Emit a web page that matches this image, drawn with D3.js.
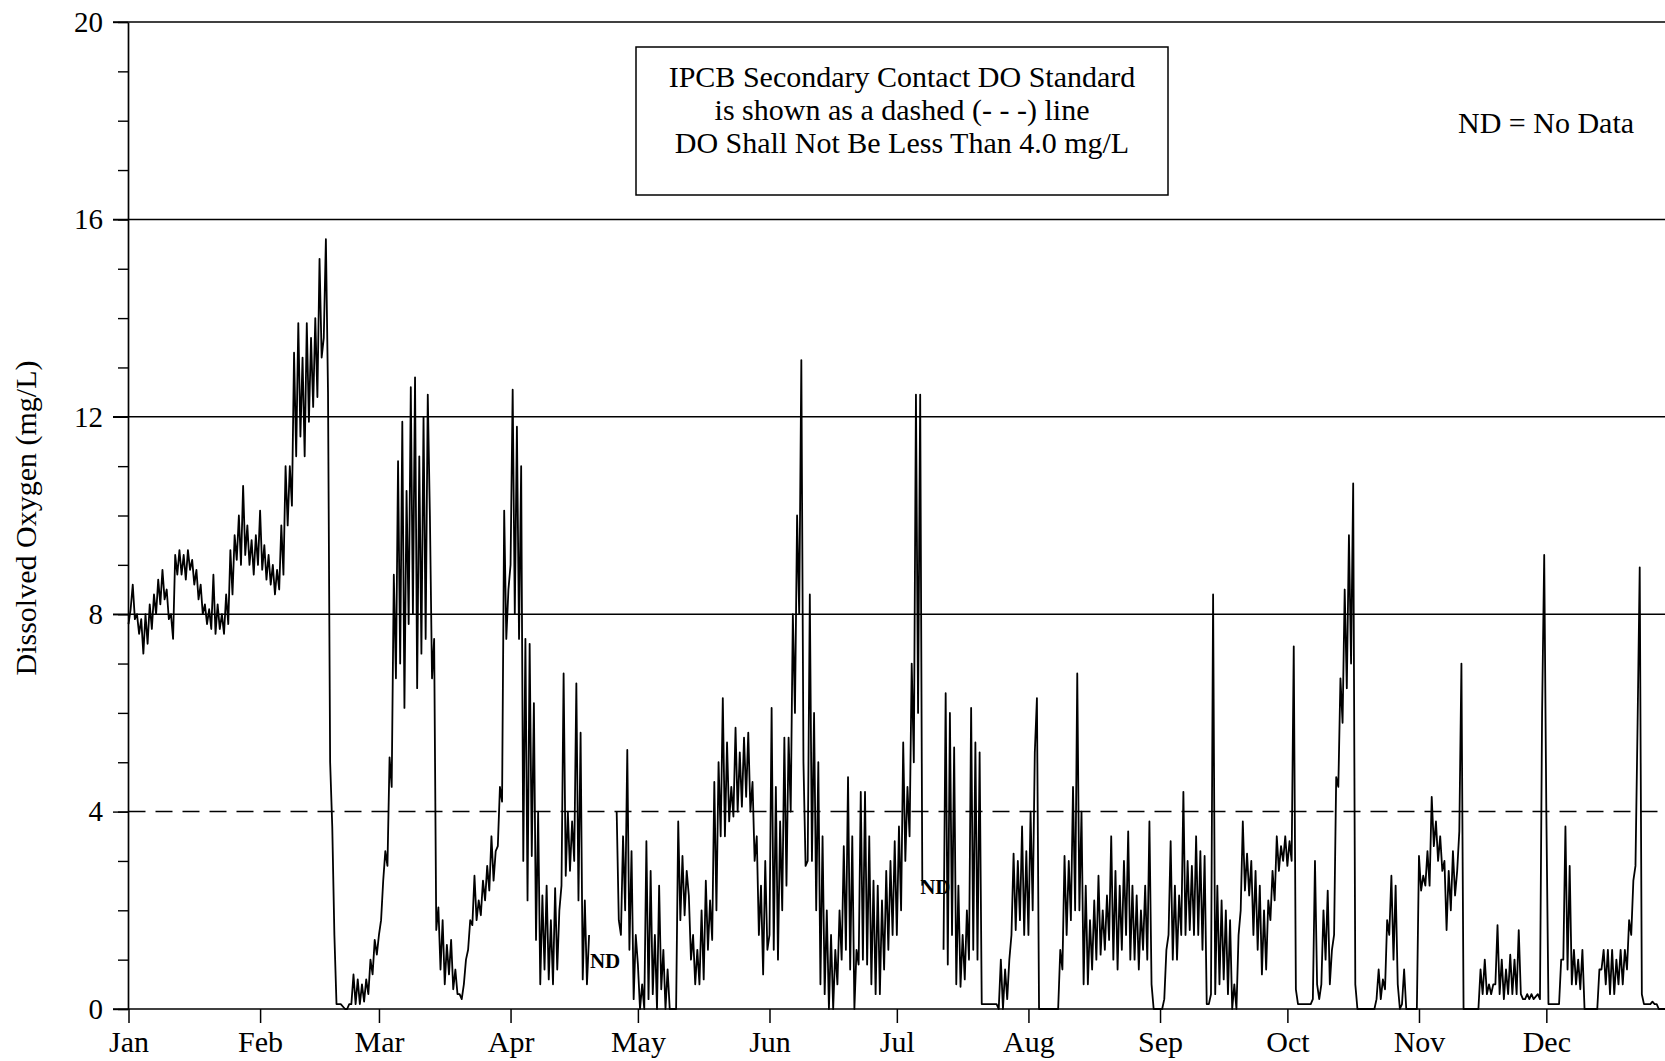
<!DOCTYPE html>
<html>
<head>
<meta charset="utf-8">
<script src="https://cdn.jsdelivr.net/npm/d3@7"></script>
<style>
  body { margin: 0; background: #fff; }
  svg { display: block; font-family: "Liberation Serif", "Times New Roman", serif; }
</style>
</head>
<body>
<svg id="chart" width="1665" height="1061"></svg>
<script>

/// data ///
const monthLabels = ["Jan", "Feb", "Mar", "Apr", "May", "Jun", "Jul", "Aug", "Sep", "Oct", "Nov", "Dec"];
const monthStartDays = [0, 31, 59, 90, 120, 151, 181, 212, 243, 273, 304, 334];
const yTickValues = [0, 4, 8, 12, 16, 20];
const gridValues = [8, 12, 16, 20];
const doStandard = 4.0;

// DO readings (mg/L), two per day (midnight, noon); null = no data
const janDO = [
  7.8,8.1, 8.6,7.9, 8.0,7.6, 7.9,7.2, 8.0,7.4, 8.2,7.7, 8.4,8.0, 8.7,8.2, 8.9,8.3, 8.5,7.9,
  8.0,7.5, 9.2,8.8, 9.3,8.8, 9.2,8.7, 9.3,8.9, 9.1,8.6, 8.9,8.3, 8.6,8.0, 8.2,7.8, 8.1,7.7,
  8.8,7.6, 8.2,7.7, 8.0,7.6, 8.4,7.8, 9.3,8.4, 9.6,9.1, 10.0,9.0, 10.6,9.2, 9.8,9.0, 9.5,8.8,
  9.6,9.0
];
const febDO = [
  10.1,8.9, 9.4,8.7, 9.2,8.6, 9.0,8.4, 8.9,8.5, 9.8,8.8, 11.0,9.8, 11.0,10.2, 13.3,11.2, 13.9,11.6,
  13.2,11.2, 13.9,11.9, 13.6,12.2, 14.0,12.4, 15.2,13.2, 13.6,15.6, 12.5,5.0, 3.7,1.5, 0.1,0.1, 0.1,0.05,
  0,0, 0.1,0.1, 0.7,0.1, 0.6,0.1, 0.5,0.15, 0.6,0.3, 1.0,0.7, 1.4,1.1
];
const marDO = [
  1.5,1.8, 2.6,3.2, 2.9,5.1, 4.5,8.8, 6.7,11.1, 7.0,11.9, 6.1,10.5, 7.8,12.6, 8.0,12.8, 6.5,11.2,
  7.2,12.0, 7.5,12.45, 10.0,6.7, 7.5,1.6, 2.06,0.8, 1.8,0.5, 1.3,0.7, 1.4,0.4, 0.8,0.3, 0.3,0.2,
  0.5,1.0, 1.2,1.8, 1.7,2.7, 1.8,2.2, 1.9,2.6, 2.2,2.9, 2.4,3.5, 2.6,3.2, 3.3,4.5, 4.2,10.1,
  7.5,8.5
];
const aprDO = [
  9.0,12.55, 8.0,11.8, 7.5,11.0, 3.0,7.5, 2.2,7.4, 3.1,6.2, 1.4,4.0, 0.5,2.3, 0.8,2.5, 0.6,1.8,
  0.5,2.45, 0.8,2.0, 2.5,6.8, 2.7,4.0, 2.8,3.8, 3.0,6.6, 2.2,5.6, 0.6,2.2, 0.5,1.5, null,null,
  null,null, null,null, null,null, null,null, null,null, 4.0,1.8, 1.5,3.5, 2.0,5.25, 1.2,3.2, 0.2,1.5
];
const mayDO = [
  0.9,0.0, 0.5,0.0, 3.4,0.2, 2.8,0.3, 1.5,0.0, 2.5,0.4, 1.2,0.0, 0.8,0.0, 0.0,0.0, 0.0,3.8,
  1.8,3.1, 1.9,2.8, 2.3,1.0, 1.5,0.5, 1.2,0.5, 2.0,0.6, 2.6,1.2, 2.2,1.4, 4.6,2.0, 5.0,3.5,
  6.3,3.5, 5.4,3.8, 4.5,3.9, 5.7,4.0, 5.2,4.1, 5.5,4.3, 5.6,4.0, 4.6,3.0, 3.5,1.5, 2.5,0.7,
  3.0,1.2
];
const junDO = [
  1.5,6.1, 1.2,4.5, 1.0,3.8, 2.0,5.5, 2.5,5.5, 4.0,8.0, 6.0,10.0, 8.0,13.15, 5.0,2.9, 3.0,8.4,
  3.0,6.0, 2.0,5.0, 0.5,3.5, 0.3,2.0, 0.0,1.5, 0.0,1.2, 0.5,2.0, 1.0,3.3, 1.2,4.7, 0.8,3.5,
  0.0,1.2, 0.9,4.4, 1.0,4.4, 0.9,3.5, 0.5,2.6, 0.3,2.5, 0.3,2.2, 0.8,2.8, 1.2,3.0, 1.5,3.4
];
const julDO = [
  1.5,3.7, 2.0,5.4, 3.0,4.5, 3.5,7.0, 5.0,12.45, 6.0,12.45, 2.5,null, null,null, null,null, null,null,
  null,null, 1.2,6.4, 0.9,6.0, 1.5,5.3, 0.5,2.5, 0.45,1.5, 0.6,2.0, 1.0,6.1, 1.2,5.4, 1.0,5.2,
  0.1,0.1, 0.1,0.1, 0.1,0.1, 0.1,0.1, 0.0,1.0, 0.0,0.8, 0.2,1.0, 1.5,3.15, 1.6,3.0, 1.8,3.7,
  1.5,3.2
];
const augDO = [
  1.5,4.0, 2.0,5.2, 6.3,0.0, 0,0, 0,0, 0,0, 0,0, 0.0,1.2, 0.8,3.1, 1.5,3.0,
  1.8,4.5, 2.0,6.8, 2.0,4.0, 0.5,2.5, 0.5,1.8, 0.8,2.2, 1.0,2.7, 1.1,2.0, 1.2,2.3, 1.4,3.5,
  1.0,2.8, 0.8,2.5, 1.2,3.0, 1.5,3.6, 1.0,2.5, 1.0,2.3, 0.8,2.0, 1.2,2.5, 1.0,3.8, 0.5,0.0,
  0,0
];
const sepDO = [
  0,0, 0.2,1.2, 1.5,3.4, 1.0,2.5, 1.0,2.3, 1.5,4.4, 1.5,3.0, 1.6,2.9, 1.5,3.5, 1.5,3.2,
  1.2,3.1, 0.1,0.1, 0.3,8.4, 0.3,2.5, 0.5,2.2, 0.6,2.0, 0.3,1.8, 0.0,0.5, 0.0,1.5, 2.0,3.8,
  2.4,3.15, 2.3,3.0, 1.5,2.8, 1.2,2.5, 0.7,2.0, 0.8,2.2, 1.8,2.8, 2.2,3.5, 2.8,3.3, 3.0,3.5
];
const octDO = [
  2.9,3.4, 3.0,7.35, 0.4,0.1, 0.1,0.1, 0.1,0.1, 0.1,0.1, 0.2,3.0, 0.5,0.2, 0.5,2.0, 1.0,2.4,
  0.5,1.2, 1.5,4.7, 4.5,6.7, 5.8,8.5, 6.5,9.6, 7.0,10.65, 0.5,0.0, 0,0, 0,0, 0,0,
  0,0, 0.2,0.8, 0.2,0.6, 0.4,1.8, 1.5,2.7, 1.0,2.5, 0.5,0.0, 0.1,0.8, 0,0, 0,0,
  0,0
];
const novDO = [
  3.1,2.4, 2.7,2.5, 3.2,2.5, 4.3,3.3, 3.8,3.0, 3.5,2.8, 3.0,1.6, 2.8,2.0, 3.2,2.3, 2.8,3.6,
  7.0,0.0, 0,0, 0,0, 0,0, 0.0,0.8, 0.3,1.0, 0.3,0.5, 0.3,0.5, 0.5,1.7, 0.3,1.0,
  0.2,0.8, 0.3,1.1, 0.3,1.0, 0.3,1.6, 0.3,0.2, 0.2,0.3, 0.2,0.3, 0.2,0.25, 0.3,0.2, 6.0,9.2
];
const decDO = [
  4.0,0.1, 0.1,0.1, 0.1,0.1, 0.1,1.0, 1.0,3.7, 0.8,2.9, 0.5,1.2, 0.5,1.0, 0.4,1.2, 0,0,
  0,0, 0,0, 0.0,0.8, 0.8,1.2, 0.5,1.2, 0.3,1.2, 0.3,1.0, 0.5,1.2, 0.5,1.2, 0.8,1.8,
  1.5,2.6, 2.9,5.8, 8.95,0.3, 0.1,0.1, 0.1,0.1, 0.15,0.1, 0.1,0.0, 0,0, 0,0
];

// "ND" marks placed where the record has gaps
const ndMarks = [ { day: 108.7, value: 0.83 }, { day: 186.5, value: 2.33 } ];

const boxLines = [
  "IPCB Secondary Contact DO Standard",
  "is shown as a dashed (- - -) line",
  "DO Shall Not Be Less Than 4.0 mg/L"
];

/// constants ///
const width = 1665;
const height = 1061;
const plotLeft = 128.5;
const pxPerDay = 4.245;
const plotTop = 22;
const plotBottom = 1009;
const fontTick = 29;
const fontText = 30;
const serif = "Liberation Serif, Times New Roman, serif";

const readings = [].concat(janDO, febDO, marDO, aprDO, mayDO, junDO,
                           julDO, augDO, sepDO, octDO, novDO, decDO)
  .map((v, i) => ({ t: i / 2, v: v }));

/// scales ///
const x = d3.scaleLinear().domain([0, 365]).range([plotLeft, plotLeft + 365 * pxPerDay]);
const y = d3.scaleLinear().domain([0, 20]).range([plotBottom, plotTop]);

const svg = d3.select("#chart").attr("width", width).attr("height", height);

// gridlines
svg.append("g")
  .selectAll("line").data(gridValues).join("line")
    .attr("x1", 113).attr("x2", width)
    .attr("y1", d => y(d)).attr("y2", d => y(d))
    .attr("stroke", "#000").attr("stroke-width", 1.5);

// standard, dashed
svg.append("line")
  .attr("x1", x(0)).attr("x2", width)
  .attr("y1", y(doStandard)).attr("y2", y(doStandard))
  .attr("stroke", "#000").attr("stroke-width", 1.5)
  .attr("stroke-dasharray", "17,10");

// zero line
svg.append("line")
  .attr("x1", 113).attr("x2", width)
  .attr("y1", y(0)).attr("y2", y(0))
  .attr("stroke", "#000").attr("stroke-width", 1.7);

// y axis: minor ticks every 1 mg/L, major with labels
const yMinor = svg.append("g")
  .attr("transform", `translate(${plotLeft - 0.5},0)`)
  .call(d3.axisLeft(y).tickValues(d3.range(0, 21)).tickSize(10).tickSizeOuter(0).tickFormat(""));

const yMajor = svg.append("g")
  .attr("transform", `translate(${plotLeft - 0.5},0)`)
  .call(d3.axisLeft(y).tickValues(yTickValues).tickSize(15).tickSizeOuter(0).tickPadding(10));

svg.selectAll(".tick line").attr("stroke", "#000").attr("stroke-width", 1.4);
yMinor.select(".domain").attr("stroke-width", 1.7);
yMajor.select(".domain").remove();
yMajor.selectAll("text")
  .attr("font-size", fontTick)
  .attr("font-family", serif)
  .attr("fill", "#000");

// x axis: month starts
const xAxis = svg.append("g")
  .attr("transform", `translate(0,${plotBottom})`)
  .call(d3.axisBottom(x).tickValues(monthStartDays).tickSize(14).tickPadding(8)
          .tickFormat((d, i) => monthLabels[i]));
xAxis.select(".domain").remove();
xAxis.selectAll(".tick line").attr("stroke", "#000").attr("stroke-width", 1.5);
xAxis.selectAll("text")
  .attr("font-size", fontText)
  .attr("font-family", serif)
  .attr("fill", "#000");

// y title
svg.append("text")
  .attr("transform", "translate(36,518) rotate(-90)")
  .attr("text-anchor", "middle")
  .attr("font-family", serif)
  .attr("font-size", fontText)
  .text("Dissolved Oxygen (mg/L)");

// DO record
const line = d3.line()
  .defined(d => d.v != null)
  .x(d => x(d.t))
  .y(d => y(d.v));

svg.append("path")
  .datum(readings)
  .attr("d", line)
  .attr("fill", "none")
  .attr("stroke", "#000")
  .attr("stroke-width", 1.8)
  .attr("stroke-linejoin", "round");

// ND marks
svg.append("g")
  .selectAll("text").data(ndMarks).join("text")
    .attr("x", d => x(d.day))
    .attr("y", d => y(d.value))
    .attr("font-family", serif)
    .attr("font-size", 21)
    .attr("font-weight", "bold")
    .text("ND");

// legend box
const box = svg.append("g");
box.append("rect")
  .attr("x", 636).attr("y", 47).attr("width", 532).attr("height", 148)
  .attr("fill", "#fff").attr("stroke", "#000").attr("stroke-width", 1.5);
box.selectAll("text").data(boxLines).join("text")
  .attr("x", 902)
  .attr("y", (d, i) => 87 + i * 33)
  .attr("text-anchor", "middle")
  .attr("font-family", serif)
  .attr("font-size", fontText)
  .text(d => d);

svg.append("text")
  .attr("x", 1458).attr("y", 133)
  .attr("font-family", serif)
  .attr("font-size", fontText)
  .text("ND = No Data");

</script>
</body>
</html>
